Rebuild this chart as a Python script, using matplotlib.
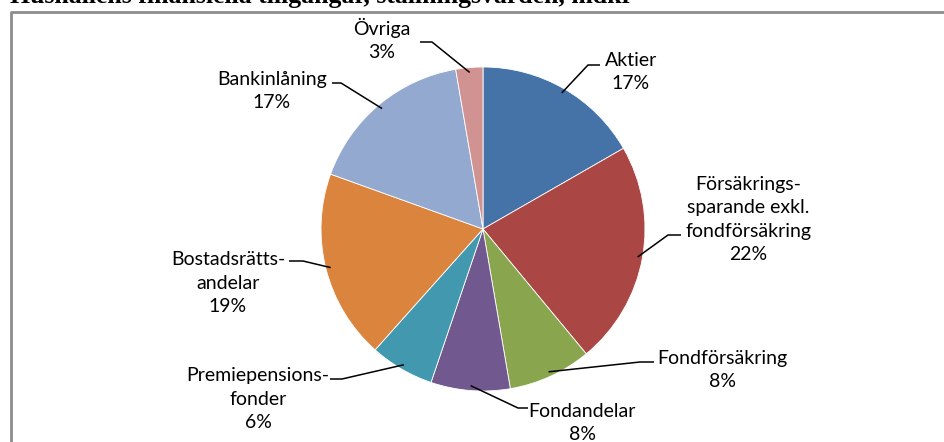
import matplotlib
matplotlib.use("Agg")
import matplotlib.pyplot as plt
import numpy as np

# ---- data ----
categories = ["Aktier", "Försäkrings-\nsparande exkl.\nfondförsäkring", "Fondförsäkring",
              "Fondandelar", "Premiepensions-\nfonder", "Bostadsrätts-\nandelar",
              "Bankinlåning", "Övriga"]
shares = [16.7, 22.3, 8.3, 7.9, 6.4, 18.9, 16.8, 2.7]
pct_labels = ["17%", "22%", "8%", "8%", "6%", "19%", "17%", "3%"]
colors = ["#4572A7", "#AA4643", "#89A54E", "#71588F", "#4198AF", "#DB843D", "#93A9CF", "#D19392"]
title = "Hushållens finansiella tillgångar, ställningsvärden, mdkr"

# ---- layout (pixel coordinates, y measured from top) ----
W, H = 944, 442
cx, cy, R = 483, 229, 162
# label centre x and baseline y of the last (percentage) line
label_pos = [(631, 89), (748, 260), (722, 387), (582, 440), (258, 428), (228, 312), (272, 108), (382, 58)]
elbow = [((600, 65), (588, 65)), ((681, 235), (668, 235)), ((654, 362), (640, 362)),
         ((528, 408), (518, 408)), ((330, 379), (342, 379)), ((289, 261), (303, 261)),
         ((332, 83), (341, 83)), ((420, 42), (432, 42))]

fig = plt.figure(figsize=(W / 100, H / 100), dpi=100)
ax = fig.add_axes([0, 0, 1, 1])
ax.set_xlim(0, W)
ax.set_ylim(0, H)
ax.set_aspect("equal")
ax.axis("off")

def Y(y):
    return H - y

wedges, _ = ax.pie(shares, colors=colors, startangle=90, counterclock=False,
                   radius=R, center=(cx, Y(cy)),
                   wedgeprops=dict(edgecolor="white", linewidth=0.6))
ax.set_xlim(0, W)
ax.set_ylim(0, H)

font = "Lato"
fs = 14
for w, cat, pct, (lx, ly), (e1, e2) in zip(wedges, categories, pct_labels, label_pos, elbow):
    mid = np.deg2rad((w.theta1 + w.theta2) / 2)
    px = cx + 0.97 * R * np.cos(mid)
    py = Y(cy) + 0.97 * R * np.sin(mid)
    ax.plot([e1[0], e2[0], px], [Y(e1[1]), Y(e2[1]), py], color="black", lw=1.1,
            solid_capstyle="butt")
    ax.text(lx, Y(ly), cat + "\n" + pct, ha="center", va="baseline",
            multialignment="center", fontsize=fs, family=font, linespacing=1.45,
            color="black")

# frame (partly outside figure)
ax.plot([10.5, 10.5, W + 5], [Y(H + 5), Y(11.5), Y(11.5)], color="#8c8c8c", lw=2,
        clip_on=False)

fig.text(10 / W, 1 - 2.5 / H, title, ha="left", va="baseline", fontsize=18.5,
         family="Liberation Serif", fontweight="bold")

fig.savefig("out.png", dpi=100)
